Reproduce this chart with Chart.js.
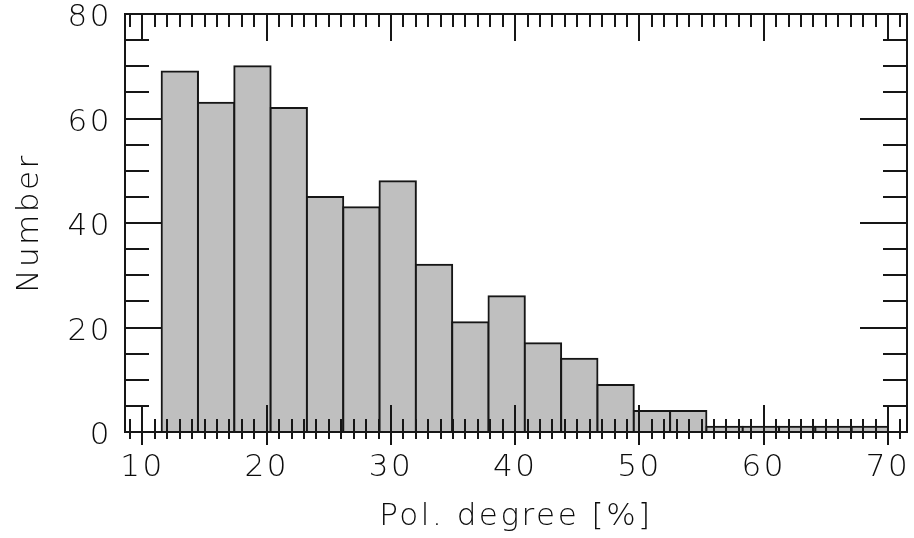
<!DOCTYPE html>
<html>
<head>
<meta charset="utf-8">
<script src="https://cdn.jsdelivr.net/npm/chart.js@4.4.1/dist/chart.umd.min.js"></script>
<style>
  html, body { margin: 0; padding: 0; background: #ffffff; }
  canvas { display: block; }
</style>
</head>
<body>
<canvas id="hist" width="914" height="538"></canvas>
<script>
// Histogram bin edges (polarization degree, %) and counts per bin
const binEdges = [11.55, 14.4725, 17.395, 20.3175, 23.24, 26.1625, 29.085, 32.0075,
                  34.93, 37.8525, 40.775, 43.6975, 46.62, 49.5425, 52.465, 55.3875,
                  58.31, 61.2325, 64.155, 67.0775, 70.0];
const counts = [69, 63, 70, 62, 45, 43, 48, 32, 21, 26, 17, 14, 9, 4, 4, 1, 1, 1, 1, 1];

// Axis labelling
const xTickLabels = [10, 20, 30, 40, 50, 60, 70];
const yTickLabels = [0, 20, 40, 60, 80];
const xTitle = 'Pol. degree [%]';
const yTitle = 'Number';

const INK = '#161616';
const TEXT = '#0c0c0c';
const FONT = { family: "'DejaVu Sans', sans-serif", size: 31, weight: 200, lineHeight: 1.2 };

const histData = counts.map((n, i) => ({ x: (binEdges[i] + binEdges[i + 1]) / 2, y: n }));

// Keep the plot box fixed: no extra room reserved for overhanging tick labels
function fixBox(s, size) {
  if (s.isHorizontal()) s.height = size; else s.width = size;
  s.paddingTop = 0; s.paddingBottom = 0; s.paddingLeft = 0; s.paddingRight = 0;
}

// Boxed frame with inward ticks on all four sides (IDL style)
const framePlugin = {
  id: 'frameTicks',
  beforeDraw(chart) {
    chart.ctx.letterSpacing = '2.5px';
  },
  beforeDatasetsDraw(chart) {
    const { ctx, chartArea: a, scales: { y } } = chart;
    ctx.save();
    ctx.strokeStyle = INK;
    ctx.lineWidth = 2;
    ctx.beginPath();
    for (let v = y.min; v <= y.max; v += 5) {
      const py = Math.round(y.getPixelForValue(v));
      const len = v % 20 === 0 ? 47 : 24;
      ctx.moveTo(a.left, py); ctx.lineTo(a.left + len, py);
      ctx.moveTo(a.right, py); ctx.lineTo(a.right - len, py);
    }
    ctx.stroke();
    ctx.restore();
  },
  afterDatasetsDraw(chart) {
    const { ctx, chartArea: a, scales: { x } } = chart;
    ctx.save();
    ctx.strokeStyle = INK;
    ctx.lineWidth = 2;
    ctx.beginPath();
    for (let v = Math.ceil(x.min); v <= x.max; v++) {
      const major = v % 10 === 0;
      const px = Math.round(x.getPixelForValue(v));
      ctx.moveTo(px, a.top); ctx.lineTo(px, a.top + (major ? 27 : 13));
      ctx.moveTo(px, a.bottom + (major ? 13 : 7)); ctx.lineTo(px, a.bottom - (major ? 27 : 13));
    }
    ctx.stroke();
    ctx.strokeRect(Math.round(a.left), Math.round(a.top),
                   Math.round(a.right - a.left), Math.round(a.bottom - a.top));
    ctx.restore();
  }
};

new Chart(document.getElementById('hist'), {
  type: 'bar',
  data: {
    datasets: [{
      data: histData,
      backgroundColor: '#bfbfbf',
      borderColor: INK,
      borderWidth: 2,
      borderSkipped: false,
      inflateAmount: 1,
      barPercentage: 1,
      categoryPercentage: 1
    }]
  },
  options: {
    responsive: false,
    devicePixelRatio: 1,
    animation: false,
    layout: { padding: { top: 14, right: 7, left: 0, bottom: 0 } },
    plugins: { legend: { display: false }, tooltip: { enabled: false } },
    scales: {
      x: {
        type: 'linear',
        min: 8.6,
        max: 71.53,
        offset: false,
        grid: { display: false, drawTicks: false },
        border: { display: false },
        afterBuildTicks: s => { s.ticks = xTickLabels.map(v => ({ value: v })); },
        afterFit: s => fixBox(s, 106),
        ticks: { font: FONT, color: TEXT, padding: 17, maxRotation: 0, autoSkip: false,
                 callback: v => String(v) },
        title: { display: true, text: xTitle, font: FONT, color: TEXT,
                 padding: { top: 0, bottom: 2 } }
      },
      y: {
        type: 'linear',
        min: 0,
        max: 80,
        grid: { display: false, drawTicks: false },
        border: { display: false },
        afterBuildTicks: s => { s.ticks = yTickLabels.map(v => ({ value: v })); },
        afterFit: s => fixBox(s, 125),
        ticks: { font: FONT, color: TEXT, padding: 13, labelOffset: 4, autoSkip: false,
                 callback: v => String(v) },
        title: { display: true, text: yTitle, font: FONT, color: TEXT,
                 padding: { top: 11, bottom: 0 } }
      }
    }
  },
  plugins: [framePlugin]
});
</script>
</body>
</html>
